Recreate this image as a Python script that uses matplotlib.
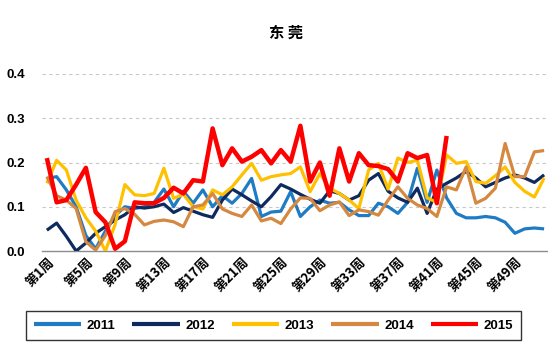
import matplotlib
matplotlib.use("Agg")
import matplotlib.pyplot as plt
from matplotlib.ticker import FixedLocator

# ---------------- data ----------------
weeks = list(range(1, 53))
tick_weeks = [1, 5, 9, 13, 17, 21, 25, 29, 33, 37, 41, 45, 49]
tick_labels = [f"第{w}周" for w in tick_weeks]
title_text = "东 莞"
series_names = ["2011", "2012", "2013", "2014", "2015"]

s2011 = [0.164, 0.168, 0.138, 0.100, 0.035, 0.005, 0.045, 0.080, 0.100, 0.096,
         0.100, 0.110, 0.140, 0.100, 0.135, 0.108, 0.138, 0.100, 0.125, 0.108,
         0.130, 0.164, 0.078, 0.088, 0.090, 0.134, 0.078, 0.100, 0.115, 0.108,
         0.110, 0.093, 0.080, 0.080, 0.108, 0.100, 0.085, 0.110, 0.187, 0.110,
         0.183, 0.120, 0.085, 0.075, 0.075, 0.078, 0.075, 0.065, 0.040, 0.050,
         0.052, 0.050]
s2012 = [0.047, 0.063, 0.033, 0.000, 0.018, 0.040, 0.055, 0.070, 0.082, 0.100,
         0.097, 0.100, 0.106, 0.087, 0.098, 0.090, 0.082, 0.076, 0.115, 0.140,
         0.127, 0.113, 0.100, 0.123, 0.150, 0.140, 0.128, 0.117, 0.108, 0.136,
         0.130, 0.115, 0.125, 0.160, 0.175, 0.135, 0.120, 0.110, 0.142, 0.085,
         0.140, 0.153, 0.165, 0.180, 0.165, 0.145, 0.155, 0.165, 0.172, 0.165,
         0.155, 0.172]
s2013 = [0.153, 0.205, 0.183, 0.115, 0.075, 0.045, 0.000, 0.060, 0.150, 0.127,
         0.125, 0.130, 0.187, 0.119, 0.128, 0.100, 0.095, 0.138, 0.127, 0.145,
         0.172, 0.198, 0.160, 0.168, 0.172, 0.175, 0.190, 0.134, 0.175, 0.142,
         0.130, 0.115, 0.096, 0.183, 0.198, 0.140, 0.210, 0.200, 0.205, 0.120,
         0.110, 0.217, 0.198, 0.202, 0.157, 0.153, 0.170, 0.190, 0.155, 0.135,
         0.122, 0.165]
s2014 = [0.168, 0.125, 0.115, 0.096, 0.021, 0.002, 0.035, 0.089, 0.096, 0.083,
         0.059, 0.067, 0.070, 0.066, 0.055, 0.100, 0.104, 0.130, 0.095, 0.085,
         0.078, 0.104, 0.068, 0.074, 0.062, 0.095, 0.120, 0.119, 0.091, 0.104,
         0.111, 0.080, 0.093, 0.089, 0.081, 0.115, 0.145, 0.119, 0.104, 0.096,
         0.078, 0.145, 0.138, 0.190, 0.108, 0.119, 0.142, 0.243, 0.168, 0.168,
         0.224, 0.227]
s2015 = [0.210, 0.110, 0.115, 0.150, 0.188, 0.088, 0.065, 0.005, 0.022, 0.110,
         0.108, 0.108, 0.120, 0.143, 0.130, 0.160, 0.157, 0.277, 0.194, 0.232,
         0.202, 0.213, 0.228, 0.198, 0.228, 0.202, 0.283, 0.157, 0.200, 0.125,
         0.232, 0.157, 0.221, 0.194, 0.192, 0.185, 0.157, 0.221, 0.210, 0.217,
         0.108, 0.260]

yticks = [0.0, 0.1, 0.2, 0.3, 0.4]

# ---------------- style ----------------
colors = ["#1F7BC4", "#0E2A5E", "#FFC000", "#D5883F", "#FF0000"]
widths = [2.3, 2.3, 2.3, 2.3, 3.2]
cjk = ["Noto Sans CJK SC", "DejaVu Sans"]
num_font = ["Liberation Sans", "DejaVu Sans"]

fig = plt.figure(figsize=(5.48, 3.53), dpi=100)
ax = fig.add_axes([42 / 548, 1 - 251 / 353, 507 / 548, (251 - 74) / 353])

all_series = [s2011, s2012, s2013, s2014, s2015]
handles = []
for name, vals, c, lw in zip(series_names, all_series, colors, widths):
    h, = ax.plot(weeks[:len(vals)], vals, color=c, lw=lw, label=name,
                 solid_joinstyle="round", solid_capstyle="butt", zorder=3)
    handles.append(h)

ax.set_xlim(0.5, 52.5)
ax.set_ylim(0, 0.4)
ax.yaxis.set_major_locator(FixedLocator(yticks))
ax.set_yticklabels([f"{v:.1f}" for v in yticks], fontfamily=num_font,
                   fontweight="bold", fontsize=9.5)
ax.tick_params(axis="y", length=0, pad=12)
ax.xaxis.set_major_locator(FixedLocator(tick_weeks))
ax.set_xticklabels(tick_labels, rotation=45, ha="right",
                   rotation_mode="anchor", fontfamily=cjk,
                   fontweight="bold", fontsize=9.5)
ax.tick_params(axis="x", length=0, pad=3)

for v in yticks[1:]:
    ax.axhline(v, color="#C8C8C8", lw=0.8, ls=(0, (3, 3)), zorder=1)

for s in ["left", "right", "top"]:
    ax.spines[s].set_visible(False)
ax.spines["bottom"].set_color("#8C8C8C")
ax.spines["bottom"].set_linewidth(1.0)
ax.spines["bottom"].set_zorder(2)

fig.text(0.522, 1 - 33 / 353, title_text, ha="center", va="center",
         fontfamily=cjk, fontweight="bold", fontsize=11)

leg = fig.legend(handles=handles, labels=series_names, loc="center",
                 bbox_to_anchor=(273.5 / 548, 1 - 325.5 / 353), ncol=5,
                 frameon=True, fancybox=False, edgecolor="#000000",
                 handlelength=3.6, handletextpad=0.4, columnspacing=1.3,
                 borderpad=0.6, prop={"family": num_font, "weight": "bold",
                                      "size": 9.5})
leg.get_frame().set_linewidth(1.0)
for lh in leg.get_lines():
    lh.set_linewidth(3.0)

fig.savefig("out.png", dpi=100)
